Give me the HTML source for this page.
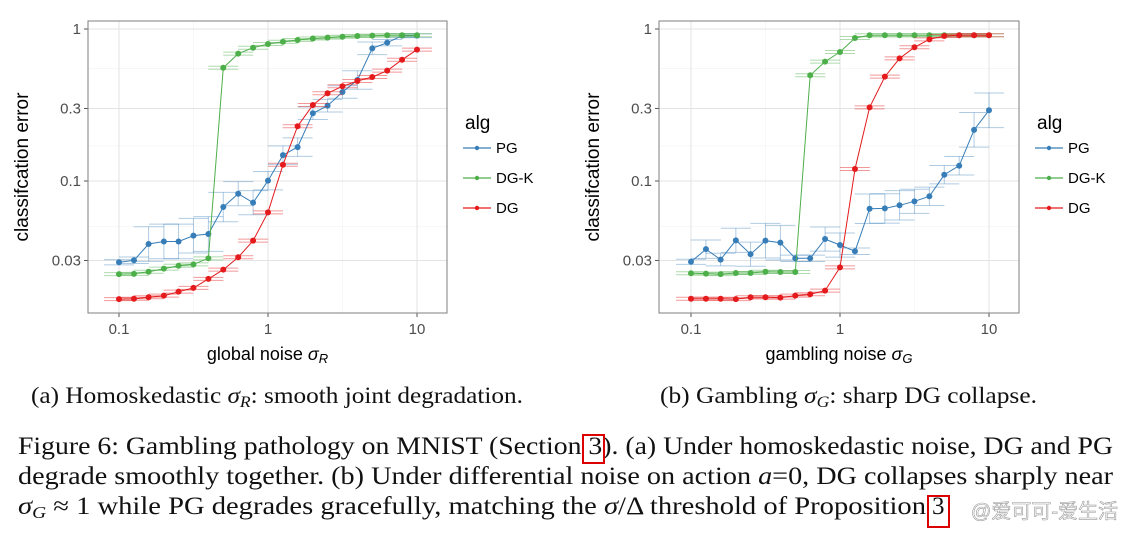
<!DOCTYPE html>
<html><head><meta charset="utf-8"><style>
body{margin:0;background:#fff;width:1131px;height:533px;overflow:hidden}
svg{display:block;font-family:"Liberation Sans","DejaVu Sans",sans-serif}
.cap{font-family:"Liberation Serif",serif;fill:#111}
</style></head><body>
<svg id="fig" width="1131" height="533" viewBox="0 0 1131 533">
<g id="panels"></g>
<g><text class="cap" x="31" y="403" font-size="23" textLength="492" lengthAdjust="spacingAndGlyphs">(a) Homoskedastic <tspan font-style="italic">σ</tspan><tspan font-style="italic" font-size="16" dy="4">R</tspan><tspan dy="-4">: smooth joint degradation.</tspan></text></g>
<g><text class="cap" x="660" y="403" font-size="23" textLength="377" lengthAdjust="spacingAndGlyphs">(b) Gambling <tspan font-style="italic">σ</tspan><tspan font-style="italic" font-size="16" dy="4">G</tspan><tspan dy="-4">: sharp DG collapse.</tspan></text></g>
<g>
<text class="cap" x="18" y="454" font-size="25" textLength="1095" lengthAdjust="spacingAndGlyphs">Figure 6: Gambling pathology on MNIST (Section 3). (a) Under homoskedastic noise, DG and PG</text>
<text class="cap" x="18" y="484" font-size="25" textLength="1095" lengthAdjust="spacingAndGlyphs">degrade smoothly together. (b) Under differential noise on action <tspan font-style="italic">a</tspan>=0, DG collapses sharply near</text>
<text class="cap" x="18" y="514" font-size="25" textLength="908" lengthAdjust="spacingAndGlyphs"><tspan font-style="italic">σ</tspan><tspan font-style="italic" font-size="17" dy="4">G</tspan><tspan dy="-4"> ≈ 1 while PG degrades gracefully, matching the </tspan><tspan font-style="italic">σ</tspan>/Δ threshold of Proposition</text>
<text class="cap" x="932" y="514" font-size="25">3</text>
</g>
<rect x="583" y="435" width="21" height="28" fill="none" stroke="#d00" stroke-width="2"/>
<rect x="928" y="496" width="21" height="31" fill="none" stroke="#d00" stroke-width="2"/>
<text x="1118" y="518" text-anchor="end" font-size="20" fill="#fff" stroke="#999" stroke-width="0.6" font-family="'Liberation Sans','Noto Sans CJK SC',sans-serif">@爱可可-爱生活</text>
</svg>
<script>
const xVals=[0.1,0.126,0.158,0.2,0.251,0.316,0.398,0.501,0.631,0.794,1,1.26,1.58,2,2.51,3.16,3.98,5.01,6.31,7.94,10];
const yTicks=[1,0.3,0.1,0.03];
const yTickLabels=["1","0.3","0.1","0.03"];
const xTicks=[0.1,1,10];
const xTickLabels=["0.1","1","10"];
const seriesNames=["PG","DG-K","DG"];
const leftPG=[0.0292,0.0301,0.0385,0.040,0.040,0.0437,0.0448,0.0674,0.0825,0.072,0.1005,0.148,0.167,0.279,0.313,0.385,0.462,0.746,0.813,0.904,0.904];
const leftDGK=[0.0244,0.0245,0.0253,0.0265,0.0277,0.0283,0.031,0.556,0.688,0.753,0.797,0.825,0.846,0.866,0.877,0.89,0.899,0.904,0.909,0.909,0.909];
const leftDG=[0.0167,0.0168,0.0172,0.0176,0.0187,0.0198,0.0227,0.0261,0.0315,0.0405,0.0622,0.128,0.229,0.316,0.378,0.42,0.455,0.483,0.532,0.628,0.731];
const rightPG=[0.0294,0.0356,0.0304,0.0407,0.033,0.0405,0.0393,0.031,0.031,0.0415,0.0379,0.0345,0.0657,0.066,0.0692,0.0735,0.0793,0.11,0.126,0.217,0.292];
const rightDGK=[0.0247,0.0246,0.0244,0.0248,0.0248,0.0253,0.0252,0.0252,0.496,0.61,0.706,0.873,0.909,0.909,0.909,0.909,0.909,0.909,0.909,0.909,0.909];
const rightDG=[0.0168,0.0168,0.0168,0.0167,0.0172,0.0172,0.0171,0.0176,0.018,0.019,0.027,0.12,0.305,0.486,0.641,0.758,0.855,0.899,0.909,0.909,0.909];
const pgErrLeft=[1.04,1.05,1.3,1.3,1.3,1.3,1.3,1.25,1.2,1.2,1.15,1.15,1.15,1.1,1.1,1.1,1.15,1.1,1.05,1.03,1.03];
const pgErrRight=[1.04,1.15,1.1,1.2,1.2,1.3,1.3,1.05,1.05,1.2,1.2,1.05,1.25,1.25,1.25,1.2,1.15,1.15,1.15,1.3,1.3];
const colors={"PG":"#377eb8","DG-K":"#4daf4a","DG":"#e41a1c"};
const NS="http://www.w3.org/2000/svg";
const root=document.getElementById('panels');
function mk(tag,attrs,parent){const e=document.createElementNS(NS,tag);for(const k in attrs)e.setAttribute(k,attrs[k]);parent.appendChild(e);return e;}
function panel(id,L,R,X1,xTitle,sub,data,pgErr){
  const T=21,B=313,Y1=29,YD=152,XD=149;
  const xs=v=>X1+XD*Math.log10(v/0.1);
  const ys=v=>Y1-YD*Math.log10(v);
  const g=mk('g',{},root);
  
  
  mk('rect',{x:L,y:T,width:R-L,height:B-T,fill:'#fff'},g);
  [0.05,0.17,0.55].forEach(v=>mk('line',{x1:L,x2:R,y1:ys(v),y2:ys(v),stroke:'#f2f2f2','stroke-width':0.6},g));
  [0.3162,3.162].forEach(v=>mk('line',{y1:T,y2:B,x1:xs(v),x2:xs(v),stroke:'#f2f2f2','stroke-width':0.6},g));
  yTicks.forEach((v,i)=>{
    const gl=mk('line',{x1:L,x2:R,y1:ys(v),y2:ys(v),stroke:'#e3e3e3','stroke-width':1},g);
    
    
    mk('line',{x1:L-4,x2:L,y1:ys(v),y2:ys(v),stroke:'#555'},g);
    const t=mk('text',{x:L-7,y:ys(v)+5,'text-anchor':'end','font-size':15,fill:'#4d4d4d'},g);
    t.textContent=yTickLabels[i];
    
    
  });
  xTicks.forEach((v,i)=>{
    mk('line',{y1:T,y2:B,x1:xs(v),x2:xs(v),stroke:'#e3e3e3'},g);
    mk('line',{y1:B,y2:B+4,x1:xs(v),x2:xs(v),stroke:'#555'},g);
    const t=mk('text',{x:xs(v),y:B+21,'text-anchor':'middle','font-size':15,fill:'#4d4d4d'},g);
    t.textContent=xTickLabels[i];
    
    
  });
  const half=15;
  seriesNames.forEach((nm,si)=>{
    const vals=data[si],c=colors[nm];
    const sg=mk('g',{},g);
    
    
    vals.forEach((v,i)=>{
      const x=xs(xVals[i]),y=ys(v);
      if(nm==='PG'){
        const f=pgErr[i];
        mk('line',{x1:x,x2:x,y1:ys(v*f),y2:ys(v/f),stroke:c,'stroke-opacity':0.4},sg);
        mk('line',{x1:x-half,x2:x+half,y1:ys(v*f),y2:ys(v*f),stroke:c,'stroke-opacity':0.4},sg);
        mk('line',{x1:x-half,x2:x+half,y1:ys(v/f),y2:ys(v/f),stroke:c,'stroke-opacity':0.4},sg);
      } else {
        mk('line',{x1:x-half,x2:x+half,y1:y-1.5,y2:y-1.5,stroke:c,'stroke-opacity':0.45},sg);
        mk('line',{x1:x-half,x2:x+half,y1:y+1.5,y2:y+1.5,stroke:c,'stroke-opacity':0.45},sg);
      }
    });
    const pts=vals.map((v,i)=>xs(xVals[i]).toFixed(1)+','+ys(v).toFixed(1)).join(' ');
    const pl=mk('polyline',{points:pts,fill:'none',stroke:c,'stroke-width':1},sg);
    
    
    vals.forEach((v,i)=>{
      const p=mk('circle',{cx:xs(xVals[i]),cy:ys(v),r:3,fill:c},sg);
      
      
    });
  });
  const fr=mk('rect',{x:L,y:T,width:R-L,height:B-T,fill:'none',stroke:'#7f7f7f','stroke-width':1},g);
  
  
  const xt=mk('text',{x:(L+R)/2,y:360,'text-anchor':'middle','font-size':18,fill:'#000'},g);
  
  
  xt.innerHTML=xTitle+' <tspan font-style="italic">σ</tspan><tspan font-style="italic" font-size="13" dy="3">'+sub+'</tspan>';
  const yt=mk('text',{transform:'translate('+(L-60)+',167) rotate(-90)','text-anchor':'middle','font-size':19,fill:'#000'},g);
  yt.textContent='classifcation error';
  
  
  const lx=R+18;
  const lg=mk('g',{},g);
  
  
  const ttl=mk('text',{x:lx,y:129,'font-size':19,fill:'#000'},lg);
  ttl.textContent='alg';
  seriesNames.forEach((nm,i)=>{
    const y=148+i*30;
    const e=mk('g',{},lg);
    
    
    mk('line',{x1:lx-2,x2:lx+26,y1:y,y2:y,stroke:colors[nm],'stroke-width':1.2},e);
    mk('circle',{cx:lx+12,cy:y,r:2.2,fill:colors[nm]},e);
    const t=mk('text',{x:lx+31,y:y+5,'font-size':15,fill:'#000'},e);
    t.textContent=nm;
  });
}
panel('left-chart',88,447,119,'global noise','R',[leftPG,leftDGK,leftDG],pgErrLeft);
panel('right-chart',659,1019,691,'gambling noise','G',[rightPG,rightDGK,rightDG],pgErrRight);
</script>
</body></html>
